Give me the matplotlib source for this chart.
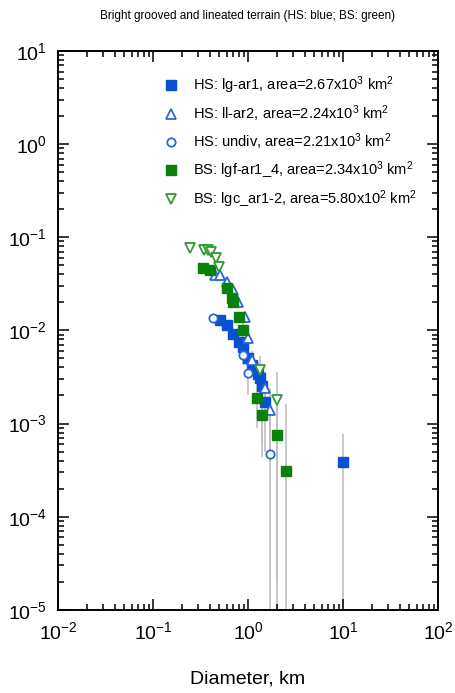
import numpy as np
import matplotlib
matplotlib.use("Agg")
import matplotlib.pyplot as plt
from matplotlib.ticker import LogLocator, NullFormatter

plt.rcParams['font.family'] = ['Liberation Sans', 'DejaVu Sans']
plt.rcParams['mathtext.fontset'] = 'custom'
plt.rcParams['mathtext.rm'] = 'Liberation Sans'
plt.rcParams['mathtext.it'] = 'Liberation Sans:italic'

# HS: lg-ar1 (filled blue squares)
hs1_d = [0.51, 0.60, 0.70, 0.80, 0.88, 1.00, 1.10, 1.27, 1.34, 1.40, 1.51, 10.0]
hs1_r = [0.0128, 0.0114, 0.0092, 0.0075, 0.0066, 0.0051, 0.0043, 0.0034, 0.0031, 0.0025, 0.0017, 0.00039]
hs1_e = [0.0012, 0.0011, 0.0010, 0.0009, 0.0009, 0.0008, 0.0008, 0.0012, 0.0013, 0.0019, 0.0012, 0.00039]

# HS: ll-ar2 (open blue triangles)
hs2_d = [0.45, 0.51, 0.60, 0.70, 0.79, 0.93, 1.00, 1.10, 1.51, 1.70]
hs2_r = [0.039, 0.039, 0.033, 0.027, 0.020, 0.014, 0.0083, 0.0048, 0.0024, 0.0014]
hs2_e = [0.004, 0.004, 0.003, 0.003, 0.0025, 0.002, 0.0015, 0.0012, 0.0012, 0.0010]

# HS: undiv (open blue circles)
hs3_d = [0.43, 0.89, 1.00, 1.70]
hs3_r = [0.0136, 0.0055, 0.0035, 0.00047]
hs3_e = [0.0015, 0.0012, 0.0015, 0.0009]

# BS: lgf-ar1_4 (filled green squares)
bs1_d = [0.34, 0.40, 0.60, 0.68, 0.70, 0.80, 0.89, 1.24, 1.40, 2.02, 2.51]
bs1_r = [0.047, 0.0445, 0.0285, 0.022, 0.020, 0.0139, 0.0101, 0.0019, 0.00124, 0.00076, 0.00031]
bs1_e = [0.004, 0.004, 0.003, 0.003, 0.0025, 0.002, 0.0018, 0.0010, 0.0008, 0.0008, 0.0013]

# BS: lgc_ar1-2 (open green down-triangles)
bs2_d = [0.245, 0.344, 0.38, 0.41, 0.46, 0.50, 1.34, 2.02]
bs2_r = [0.077, 0.073, 0.073, 0.069, 0.060, 0.048, 0.0038, 0.00178]
bs2_e = [0.008, 0.008, 0.008, 0.007, 0.006, 0.006, 0.0015, 0.00176]

blue = '#0a50d2'
blue_l = '#2a66e0'
green = '#0a820a'
green_l = '#2f9a2f'

fig = plt.figure(figsize=(4.56, 6.93), dpi=100)
ax = fig.add_axes([0.127, 0.12, 0.8335, 0.8065])

series = [
    (hs1_d, hs1_r, hs1_e, dict(marker='s', ms=6.5, color=blue, mfc=blue, mec=blue),
     'HS: lg-ar1, area=2.67x10$^3$ km$^2$'),
    (hs2_d, hs2_r, hs2_e, dict(marker='^', ms=7, color=blue_l, mfc='white', mec=blue_l, mew=1.3),
     'HS: ll-ar2, area=2.24x10$^3$ km$^2$'),
    (hs3_d, hs3_r, hs3_e, dict(marker='o', ms=6, color=blue_l, mfc='white', mec=blue_l, mew=1.3),
     'HS: undiv, area=2.21x10$^3$ km$^2$'),
    (bs1_d, bs1_r, bs1_e, dict(marker='s', ms=6.5, color=green, mfc=green, mec=green),
     'BS: lgf-ar1_4, area=2.34x10$^3$ km$^2$'),
    (bs2_d, bs2_r, bs2_e, dict(marker='v', ms=7, color=green_l, mfc='white', mec=green_l, mew=1.3),
     'BS: lgc_ar1-2, area=5.80x10$^2$ km$^2$'),
]

for d, r, e, style, lab in series:
    ax.errorbar(d, r, yerr=e, fmt='none', ecolor='#c0c0c0', elinewidth=1.2, capsize=0, zorder=1)
for d, r, e, style, lab in series:
    ax.plot(d, r, ls='none', label=lab, zorder=3, **style)

ax.set_xscale('log')
ax.set_yscale('log')
ax.set_xlim(1e-2, 1e2)
ax.set_ylim(1e-5, 1e1)

ax.xaxis.set_major_locator(LogLocator(base=10, numticks=10))
ax.yaxis.set_major_locator(LogLocator(base=10, numticks=10))
ax.xaxis.set_minor_locator(LogLocator(base=10, subs=np.arange(2, 10), numticks=20))
ax.yaxis.set_minor_locator(LogLocator(base=10, subs=np.arange(2, 10), numticks=20))
ax.xaxis.set_minor_formatter(NullFormatter())
ax.yaxis.set_minor_formatter(NullFormatter())
ax.xaxis.get_offset_text().set_visible(False)
ax.yaxis.get_offset_text().set_visible(False)

ax.tick_params(which='both', direction='in', top=True, right=True, labelsize=14, width=1.1)
ax.tick_params(which='major', length=8, pad=8)
ax.tick_params(which='minor', length=4)
for sp in ax.spines.values():
    sp.set_linewidth(1.4)

ax.set_xlabel('Diameter, km', fontsize=14, labelpad=20)
ax.set_title('Bright grooved and lineated terrain (HS: blue; BS: green)', fontsize=8.5, pad=23)

ax.legend(loc='upper left', bbox_to_anchor=(0.252, 0.968), frameon=False, fontsize=10.5,
          handletextpad=0.7, labelspacing=0.5, numpoints=1, borderaxespad=0,
          handlelength=1.6)

fig.savefig('out.png', dpi=100)
